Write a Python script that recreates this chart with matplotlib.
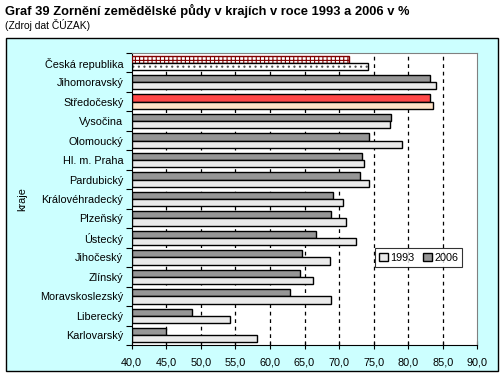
import matplotlib.pyplot as plt
import matplotlib.patches as mpatches
import numpy as np

plt.rcParams['font.family'] = ['Liberation Sans', 'DejaVu Sans']
plt.rcParams['hatch.linewidth'] = 0.8

kraje = ['Česká republika', 'Jihomoravský', 'Středočeský', 'Vysočina', 'Olomoucký',
         'Hl. m. Praha', 'Pardubický', 'Královéhradecký', 'Plzeňský', 'Ústecký',
         'Jihočeský', 'Zlínský', 'Moravskoslezský', 'Liberecký', 'Karlovarský']
r1993 = [74.2, 84.0, 83.6, 77.3, 79.1, 73.6, 74.3, 70.5, 71.0, 72.4, 68.7, 66.3, 68.9, 54.2, 58.2]
r2006 = [71.5, 83.2, 83.2, 77.5, 74.4, 73.3, 73.1, 69.1, 68.8, 66.6, 64.6, 64.3, 62.9, 48.7, 45.0]
xticks = np.arange(40, 91, 5)

fs = 7.8

fig = plt.figure(figsize=(5.03, 3.84), dpi=100)
fig.patch.set_facecolor('white')

# outer frame
fig.patches.append(mpatches.Rectangle((6 / 503, 13 / 384), 492 / 503, 333 / 384,
                                      transform=fig.transFigure, facecolor='#CCFFFF',
                                      edgecolor='black', linewidth=1.0, zorder=-5))

fig.text(5 / 503, 1 - 11 / 384, 'Graf 39 Zornění zemědělské půdy v krajích v roce 1993 a 2006 v %',
         fontsize=9.3, fontweight='bold', va='center', ha='left')
fig.text(5 / 503, 1 - 25 / 384, '(Zdroj dat ČÚZAK)', fontsize=7.4, va='center', ha='left')

ax = fig.add_axes([131.7 / 503, 39 / 384, 345.6 / 503, 292 / 384])
ax.set_facecolor('white')

y = np.arange(len(kraje))
h = 0.37
base = 40

c06 = ['#969696'] * len(kraje)
c93 = ['#EAEAEA'] * len(kraje)
c06[2] = '#FF4848'
c93[2] = '#FFE2C6'

for i in range(len(kraje)):
    if i == 0:
        ax.barh(y[i] - h / 2, r2006[i] - base, h, left=base, color='white',
                edgecolor='#800000', hatch='++++', linewidth=1.0, zorder=3)
        # dotted fill, then black outline on top
        ax.barh(y[i] + h / 2, r1993[i] - base, h, left=base, color='white',
                edgecolor='#505050', hatch='...', linewidth=0, zorder=3)
        ax.barh(y[i] + h / 2, r1993[i] - base, h, left=base, color='none',
                edgecolor='black', linewidth=1.0, zorder=4)
    else:
        ax.barh(y[i] - h / 2, r2006[i] - base, h, left=base, color=c06[i],
                edgecolor='black', linewidth=1.0, zorder=3)
        ax.barh(y[i] + h / 2, r1993[i] - base, h, left=base, color=c93[i],
                edgecolor='black', linewidth=1.0, zorder=3)

ax.set_xlim(40, 90)
ax.set_ylim(len(kraje) - 0.5, -0.5)
ax.set_xticks(xticks)
ax.set_xticklabels([f'{v:.1f}'.replace('.', ',') for v in xticks], fontsize=fs)
ax.set_yticks(y)
ax.set_yticklabels(kraje, fontsize=fs)
ax.set_yticks(np.arange(-0.5, len(kraje), 1), minor=True)
ax.tick_params(axis='y', which='major', length=0, pad=6)
ax.tick_params(axis='y', which='minor', length=4, width=0.8, direction='out')
ax.tick_params(axis='x', which='major', length=6, width=0.8, direction='inout', pad=6)

for v in xticks[1:-1]:
    ax.axvline(v, color='black', linestyle=(0, (3, 3)), linewidth=0.9, zorder=1)

ax.spines['left'].set_color('black')
ax.spines['bottom'].set_color('black')
ax.spines['top'].set_color('#808080')
ax.spines['right'].set_color('#808080')

ax.set_ylabel('kraje', fontsize=fs, labelpad=9)

leg_h = [mpatches.Patch(facecolor='#EAEAEA', edgecolor='black', label='1993'),
         mpatches.Patch(facecolor='#969696', edgecolor='black', label='2006')]
leg = ax.legend(handles=leg_h, loc='upper left', bbox_to_anchor=(238 / 345.6, 1 - 190 / 292),
                ncol=2, fontsize=fs, frameon=True, fancybox=False, handlelength=0.8,
                handleheight=0.8, handletextpad=0.2, columnspacing=0.8, borderpad=0.4)
leg.get_frame().set_edgecolor('black')
leg.get_frame().set_linewidth(0.8)

fig.savefig('out.png', dpi=100)
